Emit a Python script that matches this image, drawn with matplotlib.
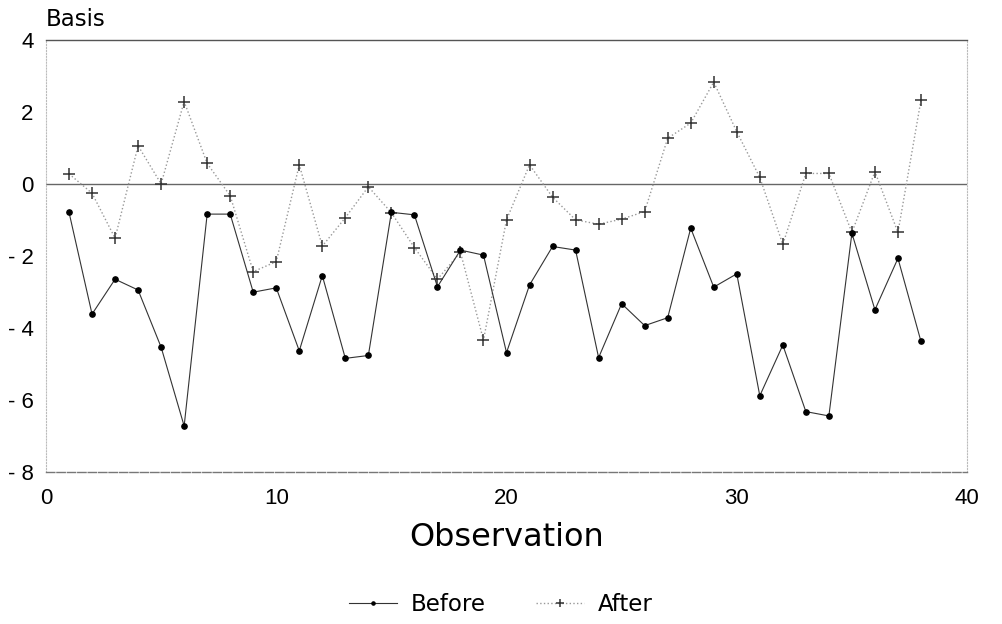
import matplotlib
matplotlib.use("Agg")
import matplotlib.pyplot as plt

plt.rcParams['font.family'] = ['Liberation Sans', 'DejaVu Sans']

# observation numbers 1..38
obs = list(range(1, 39))

before = [-0.79, -3.62, -2.65, -2.95, -4.54, -6.73, -0.84, -0.84, -3.01, -2.89,
          -4.64, -2.55, -4.85, -4.77, -0.79, -0.86, -2.86, -1.84, -1.98, -4.69,
          -2.81, -1.74, -1.84, -4.83, -3.33, -3.94, -3.72, -1.23, -2.87, -2.50,
          -5.89, -4.48, -6.33, -6.45, -1.37, -3.50, -2.07, -4.38]

after = [0.28, -0.26, -1.51, 1.06, 0.00, 2.29, 0.57, -0.33, -2.44, -2.16,
         0.53, -1.73, -0.94, -0.08, -0.80, -1.77, -2.65, -1.90, -4.34, -1.00,
         0.53, -0.37, -1.00, -1.12, -0.98, -0.77, 1.27, 1.69, 2.83, 1.45,
         0.18, -1.68, 0.29, 0.29, -1.35, 0.34, -1.35, 2.33]

xticks = [0, 10, 20, 30, 40]
yticks = [4, 2, 0, -2, -4, -6, -8]

wide = ['DejaVu Sans']

fig = plt.figure(figsize=(10.02, 6.24), dpi=100)
ax = fig.add_axes([0.0459, 0.2441, 0.9192, 0.6918])

ax.axhline(0, color='#666666', lw=1.0, zorder=1)

ax.plot(obs, before, color='#333333', lw=0.8, marker='o', ms=3.8,
        mfc='black', mec='black', label='Before', zorder=3)
ax.plot(obs, after, color='#999999', lw=1.0, ls=':', marker='+', ms=9,
        mec='#333333', mew=1.1, label='After', zorder=2)

ax.set_xlim(0, 40)
ax.set_ylim(-8, 4)
ax.set_xticks(xticks)
ax.set_yticks(yticks)
ax.tick_params(length=0, labelsize=16)
ax.tick_params(axis='x', pad=12)
ax.tick_params(axis='y', pad=9)
ax.set_yticklabels([str(t).replace('-', '- ') if t < 0 else str(t) for t in yticks])

ax.spines['top'].set_color('#555555')
ax.spines['top'].set_linewidth(1.0)
ax.spines['bottom'].set_color('#777777')
ax.spines['bottom'].set_linestyle((0, (6, 1.5)))
ax.spines['bottom'].set_linewidth(1.0)
for s in ['left', 'right']:
    ax.spines[s].set_color('#bbbbbb')
    ax.spines[s].set_linestyle(':')
    ax.spines[s].set_linewidth(0.8)

ax.set_xlabel('Observation', fontsize=23, labelpad=9, family=wide)
ax.text(0, 1.02, 'Basis', transform=ax.transAxes, fontsize=16.5,
        ha='left', va='bottom', family=wide)

fig.legend(loc='center', bbox_to_anchor=(0.5, 0.031), ncol=2, frameon=False,
           prop={'family': wide, 'size': 16.5}, handlelength=2.1,
           handletextpad=0.6, columnspacing=2.2, markerscale=0.6)

fig.savefig('out.png', dpi=100)
